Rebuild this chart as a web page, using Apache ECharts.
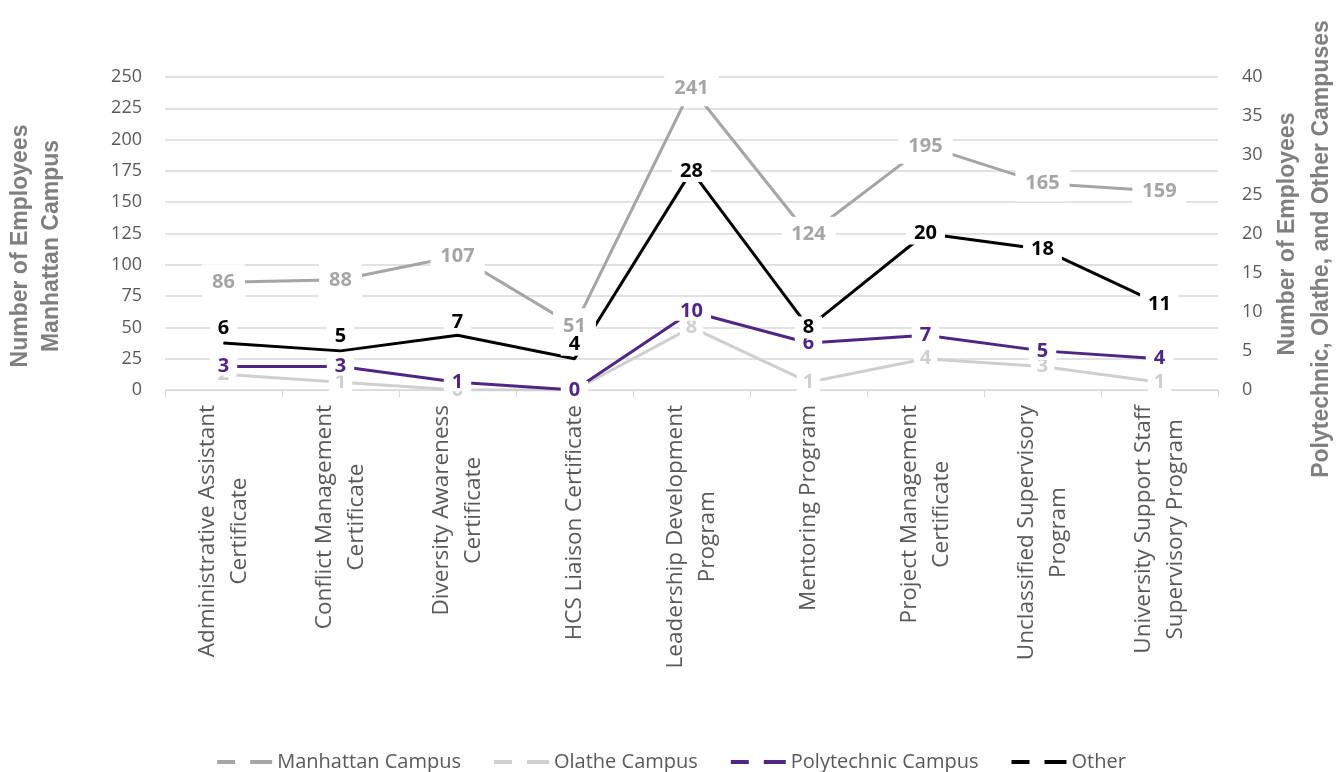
<!DOCTYPE html>
<html>
<head>
<meta charset="utf-8">
<title>Employee Development Programs by Campus</title>
<script src="https://cdn.jsdelivr.net/npm/echarts@6/dist/echarts.min.js"></script>
<style>
  html, body { margin: 0; padding: 0; background: #ffffff; }
  #chart { width: 1343px; height: 772px; }
</style>
</head>
<body>
<div id="chart"></div>
<script>
// Programs (line breaks mark where each tick label wraps)
const categories = [
  'Administrative Assistant\nCertificate',
  'Conflict Management\nCertificate',
  'Diversity Awareness\nCertificate',
  'HCS Liaison Certificate',
  'Leadership Development\nProgram',
  'Mentoring Program',
  'Project Management\nCertificate',
  'Unclassified Supervisory\nProgram',
  'University Support Staff\nSupervisory Program'
];

// Employees per program
const manhattan   = [86, 88, 107, 51, 241, 124, 195, 165, 159];
const olathe      = [2, 1, 0, 0, 8, 1, 4, 3, 1];
const polytechnic = [3, 3, 1, 0, 10, 6, 7, 5, 4];
const other       = [6, 5, 7, 4, 28, 8, 20, 18, 11];

// Axis ranges
const leftAxis  = { min: 0, max: 250, interval: 25 };
const rightAxis = { min: 0, max: 40, interval: 5 };

// Vertical lift (px) of the "Other" labels, so the first ones clear the purple line
const otherLabelLift = [15, 15, 13, 14, 0, 0, 0, 0, 0];

const TEXT_GREY = '#595959';
const TITLE_GREY = '#7f7f7f';
const GRID_GREY = '#d9d9d9';
const FONT = '"Open Sans", "Noto Sans", sans-serif';
const TITLE_FONT = 'bold 23px "Liberation Sans", Arial, sans-serif';

const legendIcon = 'path://M0,0H18V4H0Z M33,0H55V4H33Z';

function lineSeries(name, values, color, axisIndex, labelBox, extraLabel) {
  return {
    name: name,
    type: 'line',
    yAxisIndex: axisIndex,
    data: values.map(function (v, i) {
      const item = { value: v };
      if (extraLabel) {
        const l = extraLabel(i);
        if (l) item.label = l;
      }
      return item;
    }),
    symbol: 'circle',
    symbolSize: 1,
    showSymbol: true,
    itemStyle: { color: color },
    lineStyle: { color: color, width: 3 },
    label: {
      show: true,
      position: 'inside',
      color: color,
      fontFamily: FONT,
      fontWeight: 'bold',
      fontSize: 20,
      lineHeight: labelBox.lineHeight,
      backgroundColor: '#ffffff',
      padding: labelBox.padding
    },
    emphasis: { disabled: true },
    animation: false
  };
}

const chart = echarts.init(document.getElementById('chart'), null, { renderer: 'canvas' });

chart.setOption({
  backgroundColor: '#ffffff',
  animation: false,
  grid: { left: 165, right: 125, top: 77, bottom: 382, containLabel: false },
  legend: {
    top: 747,
    left: 'center',
    itemWidth: 55,
    itemHeight: 4,
    itemGap: 33,
    textStyle: { color: TEXT_GREY, fontFamily: FONT, fontSize: 20 },
    data: [
      { name: 'Manhattan Campus', icon: legendIcon },
      { name: 'Olathe Campus', icon: legendIcon },
      { name: 'Polytechnic Campus', icon: legendIcon },
      { name: 'Other', icon: legendIcon }
    ]
  },
  xAxis: {
    type: 'category',
    data: categories,
    boundaryGap: true,
    axisLine: { lineStyle: { color: GRID_GREY, width: 1 } },
    axisTick: { show: true, length: 7, lineStyle: { color: GRID_GREY } },
    axisLabel: {
      interval: 0,
      rotate: 90,
      margin: 15,
      formatter: function (v) {
        return v.split('\n').map(function (s) { return '{c|' + s + '}'; }).join('\n');
      },
      rich: {
        c: {
          align: 'center',
          color: TEXT_GREY,
          fontFamily: FONT,
          fontSize: 22.5,
          lineHeight: 32
        }
      }
    }
  },
  yAxis: [
    {
      type: 'value',
      min: leftAxis.min,
      max: leftAxis.max,
      interval: leftAxis.interval,
      axisLine: { show: false },
      axisTick: { show: false },
      splitLine: { show: true, lineStyle: { color: GRID_GREY, width: 1.5 } },
      axisLabel: { color: TEXT_GREY, fontFamily: FONT, fontSize: 18, margin: 23 }
    },
    {
      type: 'value',
      position: 'right',
      min: rightAxis.min,
      max: rightAxis.max,
      interval: rightAxis.interval,
      axisLine: { show: false },
      axisTick: { show: false },
      splitLine: { show: false },
      axisLabel: { color: TEXT_GREY, fontFamily: FONT, fontSize: 18, margin: 24 }
    }
  ],
  graphic: [
    { type: 'text', x: 21, y: 246, rotation: Math.PI / 2,
      style: { text: 'Number of Employees', font: TITLE_FONT, fill: TITLE_GREY, align: 'center', verticalAlign: 'middle' } },
    { type: 'text', x: 52, y: 246, rotation: Math.PI / 2,
      style: { text: 'Manhattan Campus', font: TITLE_FONT, fill: TITLE_GREY, align: 'center', verticalAlign: 'middle' } },
    { type: 'text', x: 1288, y: 234, rotation: Math.PI / 2,
      style: { text: 'Number of Employees', font: TITLE_FONT, fill: TITLE_GREY, align: 'center', verticalAlign: 'middle' } },
    { type: 'text', x: 1322, y: 249, rotation: Math.PI / 2,
      style: { text: 'Polytechnic, Olathe, and Other Campuses', font: TITLE_FONT, fill: TITLE_GREY, align: 'center', verticalAlign: 'middle' } }
  ],
  series: [
    lineSeries('Manhattan Campus', manhattan, '#a5a5a5', 0, { lineHeight: 22, padding: [7, 10] }),
    lineSeries('Olathe Campus', olathe, '#cfcfcf', 1, { lineHeight: 20, padding: [0, 6] }),
    lineSeries('Polytechnic Campus', polytechnic, '#4f2683', 1, { lineHeight: 18, padding: [0, 8] }),
    lineSeries('Other', other, '#000000', 1, { lineHeight: 20, padding: [1, 8] }, function (i) {
      return otherLabelLift[i] ? { offset: [0, -otherLabelLift[i]] } : null;
    })
  ]
});
</script>
</body>
</html>
